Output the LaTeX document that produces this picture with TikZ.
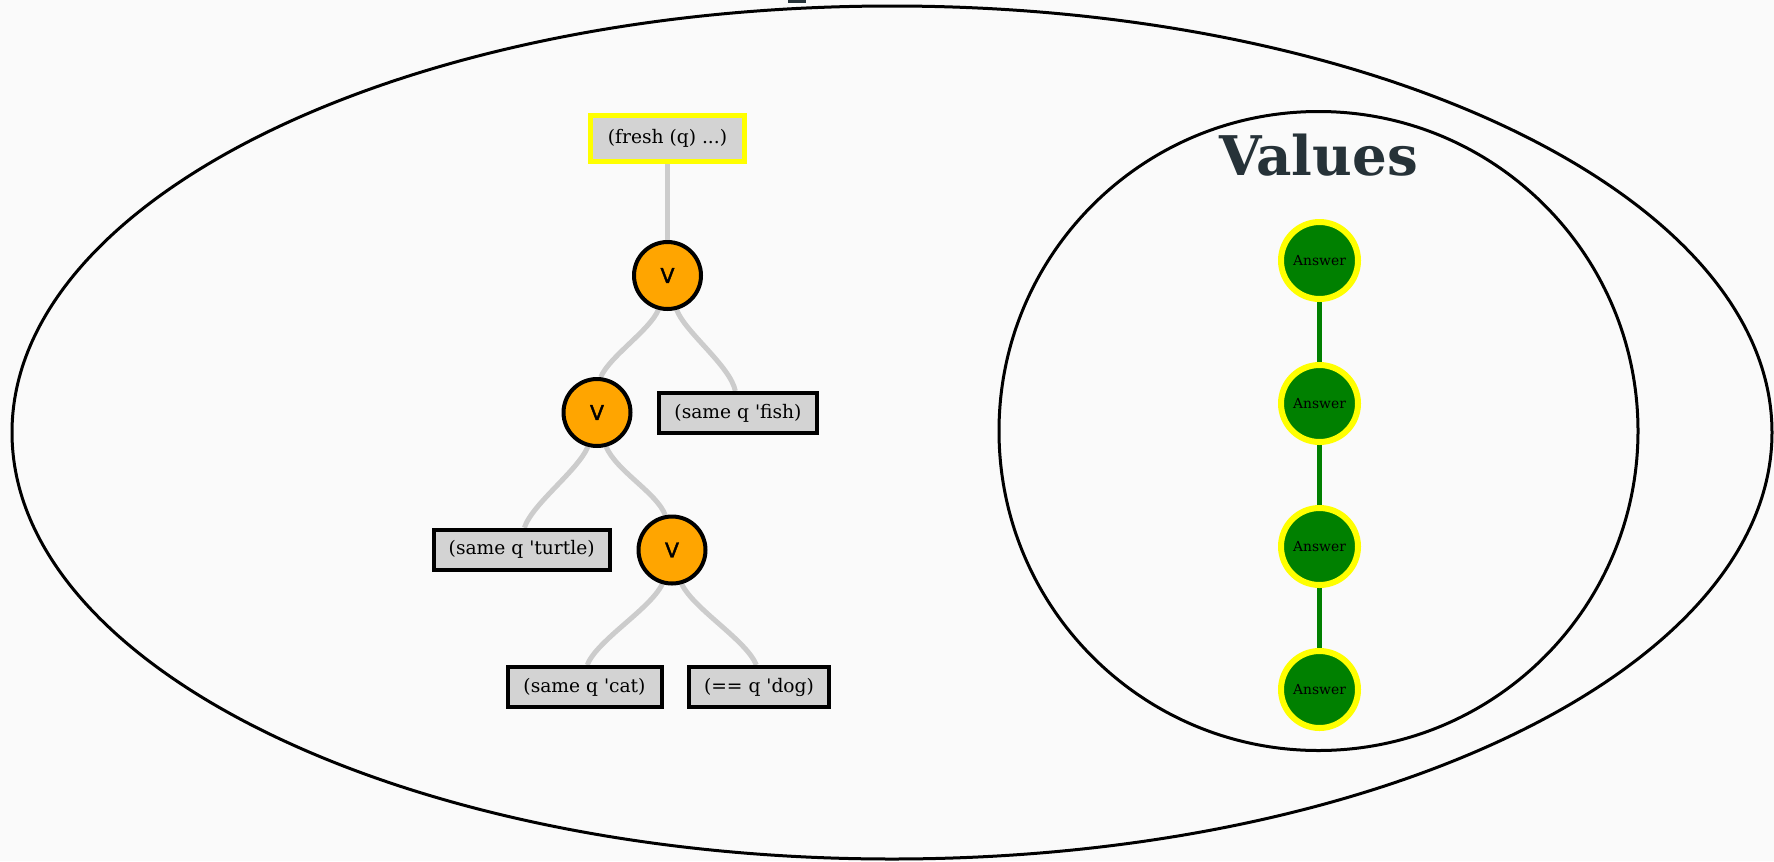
\documentclass[tikz,border=0pt]{standalone}
\usepackage{fontspec}
\setmainfont{DejaVu Serif}
\newfontfamily\vfont[FakeBold=2]{DejaVu Sans}
\definecolor{paper}{HTML}{FAFAFA}
\definecolor{slate}{HTML}{263238}
\definecolor{boxgray}{HTML}{D3D3D3}
\definecolor{edgegray}{HTML}{CCCCCC}
\definecolor{orng}{HTML}{FFA500}
\definecolor{grn}{HTML}{008000}
\definecolor{ylw}{HTML}{FFFF00}
\newcommand{\q}{\textquotesingle}
\pgfdeclarelayer{bg}
\pgfsetlayers{bg,main}
\tikzset{
  goalbox/.style={draw=black, line width=3pt, fill=boxgray, inner sep=0pt,
    minimum height=30pt, font=\fontsize{14}{16}\selectfont},
  freshbox/.style={draw=ylw, line width=3.75pt, fill=boxgray, inner sep=0pt,
    minimum width=115.5pt, minimum height=34.5pt, font=\fontsize{14}{16}\selectfont},
  disj/.style={circle, draw=black, line width=3pt, fill=orng, inner sep=0pt,
    minimum size=50.25pt, font=\vfont\fontsize{15.4}{17}\selectfont},
  answer/.style={circle, draw=ylw, line width=4.5pt, fill=grn, inner sep=0pt,
    minimum size=57.75pt, font=\fontsize{10.4}{12}\selectfont},
  tedge/.style={draw=edgegray, line width=3.75pt},
  aedge/.style={draw=grn, line width=4pt},
  frame/.style={draw=black, line width=2.25pt}
}
\begin{document}
\begin{tikzpicture}[x=0.75pt, y=-0.75pt]
\begin{pgfonlayer}{bg}
  \fill[paper] (0,0) rectangle (1774,861);
\end{pgfonlayer}
\useasboundingbox (0,0) rectangle (1774,861);

% goal tree
\node[freshbox] (fresh) at (667.5,138.5) {(fresh (q) ...)};
\node[disj] (v1) at (667.5,275.5) {V};
\node[disj] (v2) at (597,412.5) {V};
\node[goalbox, minimum width=118.5pt] (fish) at (738,413) {(same q \q fish)};
\node[disj] (v3) at (672,550) {V};
\node[goalbox, minimum width=132pt] (turtle) at (521.7,549.7) {(same q \q turtle)};
\node[goalbox, minimum width=115.5pt] (cat) at (584.5,687) {(same q \q cat)};
\node[goalbox, minimum width=104.5pt] (dog) at (759,687) {(== q \q dog)};

% stream of answers
\node[anchor=base, text=slate, font=\bfseries\fontsize{41}{46}\selectfont] (vtitle) at (1318.5,175) {Values};
\node[answer] (a1) at (1319.5,260.5) {Answer};
\node[answer] (a2) at (1319.5,403.5) {Answer};
\node[answer] (a3) at (1319.5,546.5) {Answer};
\node[answer] (a4) at (1319.5,689.5) {Answer};

\begin{pgfonlayer}{bg}
  % enclosing clusters
  \draw[frame] (892,432.5) ellipse [x radius=880, y radius=426.5];
  \draw[frame] (1318.5,431) circle [radius=319.5];
  % foot of the outer cluster's label
  \fill[slate] (788,0) rectangle (806,3);
  % tree edges
  \draw[tedge] (fresh.south) -- (v1.north);
  \draw[tedge] (v1.-105) .. controls +(-8,20) and +(8,-20) .. (v2.84);
  \draw[tedge] (v1.-75) .. controls +(8,22) and +(-5,-25) .. ([xshift=-2pt]fish.north);
  \draw[tedge] (v2.-105) .. controls +(-10,24) and +(8,-24) .. ([xshift=2pt]turtle.north);
  \draw[tedge] (v2.-75) .. controls +(10,24) and +(-8,-22) .. (v3.101);
  \draw[tedge] (v3.-106) .. controls +(-12,25) and +(10,-25) .. ([xshift=2pt]cat.north);
  \draw[tedge] (v3.-74) .. controls +(12,25) and +(-10,-25) .. ([xshift=-2pt]dog.north);
  % answer chain
  \draw[aedge] (a1) -- (a2);
  \draw[aedge] (a2) -- (a3);
  \draw[aedge] (a3) -- (a4);
\end{pgfonlayer}
\end{tikzpicture}
\end{document}
